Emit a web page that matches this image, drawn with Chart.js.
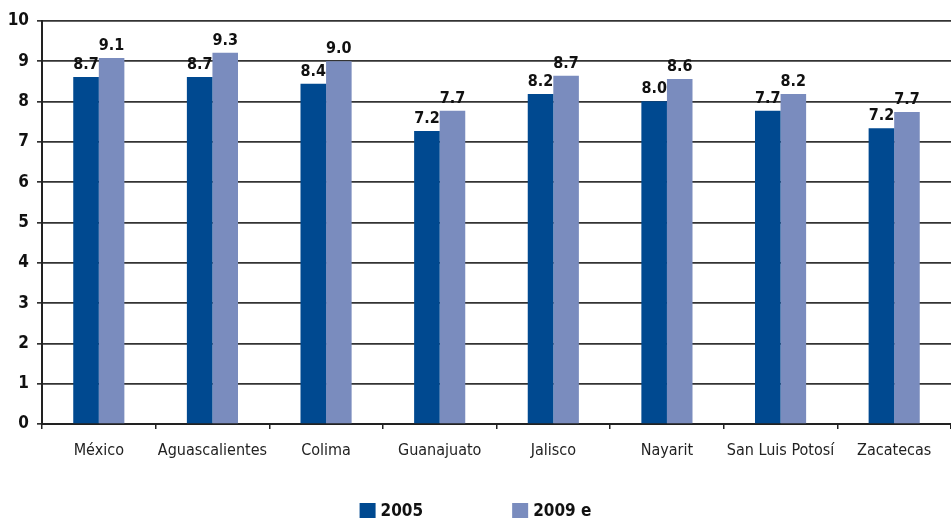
<!DOCTYPE html>
<html>
<head>
<meta charset="utf-8">
<script src="https://cdn.jsdelivr.net/npm/chart.js@4.4.1/dist/chart.umd.min.js"></script>
<style>
  html, body { margin: 0; padding: 0; background: #fff; }
  #wrap { width: 951px; height: 518px; }
</style>
</head>
<body>
<div id="wrap"><canvas id="bar-chart"></canvas></div>
<script>
var states = ["México", "Aguascalientes", "Colima", "Guanajuato", "Jalisco", "Nayarit", "San Luis Potosí", "Zacatecas"];
var values2005 = [8.61, 8.61, 8.44, 7.27, 8.19, 8.01, 7.77, 7.34];
var values2009 = [9.08, 9.21, 9.0, 7.77, 8.64, 8.56, 8.19, 7.74];
var labels2005 = ["8.7", "8.7", "8.4", "7.2", "8.2", "8.0", "7.7", "7.2"];
var labels2009 = ["9.1", "9.3", "9.0", "7.7", "8.7", "8.6", "8.2", "7.7"];
var yTicks = [0, 1, 2, 3, 4, 5, 6, 7, 8, 9, 10];

var FONT = "'DejaVu Sans Condensed', 'Liberation Sans Narrow', sans-serif";
var darkBlue = "#004990";
var lightBlue = "#7a8cbe";

// value labels above each bar
var barLabels = {
  id: 'barLabels',
  afterDatasetsDraw: function(chart) {
    var ctx = chart.ctx;
    var texts = [labels2005, labels2009];
    ctx.save();
    ctx.font = "bold 16px " + FONT;
    ctx.fillStyle = "#111";
    ctx.textAlign = "center";
    ctx.textBaseline = "bottom";
    chart.data.datasets.forEach(function(ds, d) {
      chart.getDatasetMeta(d).data.forEach(function(bar, i) {
        ctx.fillText(texts[d][i], bar.x, bar.y - 4);
      });
    });
    ctx.restore();
  }
};

// legend at the bottom, wide spacing like the original
var bottomLegend = {
  id: 'bottomLegend',
  afterDraw: function(chart) {
    var ctx = chart.ctx;
    var box = 16, gap = 5, spacing = 89;
    ctx.save();
    ctx.font = "bold 17px " + FONT;
    var items = chart.data.datasets.map(function(ds) {
      return { text: ds.label, color: ds.backgroundColor, w: box + gap + ctx.measureText(ds.label).width };
    });
    var total = 0;
    items.forEach(function(it, i) { total += it.w + (i > 0 ? spacing : 0); });
    var x = chart.width / 2 - total / 2;
    var y = chart.height - 15;
    items.forEach(function(it) {
      ctx.fillStyle = it.color;
      ctx.fillRect(x, y, box, box);
      ctx.fillStyle = "#111";
      ctx.textAlign = "left";
      ctx.textBaseline = "middle";
      ctx.fillText(it.text, x + box + gap, y + box / 2 + 1);
      x += it.w + spacing;
    });
    ctx.restore();
  }
};

var chart = new Chart(document.getElementById("bar-chart"), {
  type: 'bar',
  data: {
    labels: states,
    datasets: [{
        label: "2005",
        data: values2005,
        backgroundColor: darkBlue,
        barPercentage: 1,
        categoryPercentage: 0.45
      }, {
        label: "2009 e",
        data: values2009,
        backgroundColor: lightBlue,
        barPercentage: 1,
        categoryPercentage: 0.45
      }
    ]
  },
  options: {
    responsive: true,
    maintainAspectRatio: false,
    animation: false,
    layout: { padding: { top: 21, right: 0, bottom: 0, left: 0 } },
    plugins: {
      legend: { display: false },
      tooltip: { enabled: false }
    },
    scales: {
      x: {
        grid: { display: true, drawOnChartArea: false, drawTicks: true, tickLength: 5, color: "#222", lineWidth: 1.5 },
        border: { display: true, color: "#222", width: 2 },
        ticks: { color: "#222", font: { family: FONT, size: 16 }, padding: 12, maxRotation: 0, autoSkip: false },
        afterFit: function(s) { s.height = 94; }
      },
      y: {
        min: 0,
        max: 10,
        afterBuildTicks: function(s) { s.ticks = yTicks.map(function(v) { return { value: v }; }); },
        grid: { color: "#333", lineWidth: 1.7, tickLength: 5, drawTicks: true },
        border: { display: true, color: "#222", width: 2 },
        ticks: { color: "#111", font: { family: FONT, size: 17, weight: 'bold' }, padding: 8 },
        afterFit: function(s) { s.width = 42; }
      }
    }
  },
  plugins: [barLabels, bottomLegend]
});
</script>
</body>
</html>
